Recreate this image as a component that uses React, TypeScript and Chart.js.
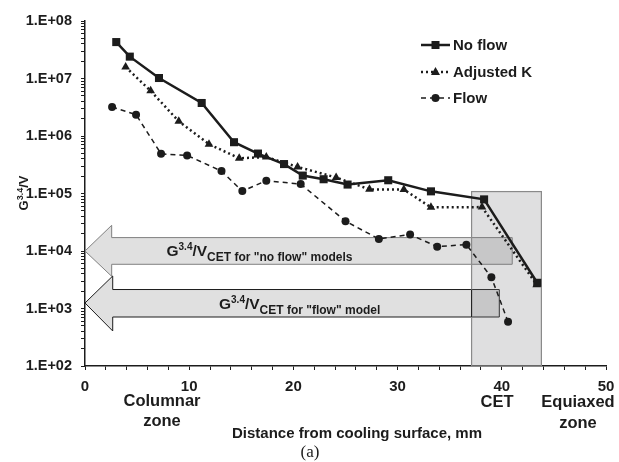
import { useEffect, useRef } from "react";
import { Chart, registerables } from "chart.js";
Chart.register(...registerables);

// ---- data ----
const xNoFlow = [3.0, 4.3, 7.1, 11.2, 14.3, 16.6, 19.1, 20.9, 22.9, 25.2, 29.1, 33.2, 38.3, 43.4];
const yNoFlow = [4.3e7, 2.4e7, 1.02e7, 3.75e6, 7.8e5, 4.95e5, 3.25e5, 2.05e5, 1.77e5, 1.43e5, 1.7e5, 1.09e5, 7.9e4, 2.8e3];

const xAdjK = [3.9, 6.3, 9.0, 11.9, 14.8, 17.4, 20.4, 24.1, 27.3, 30.6, 33.2, 38.1, 43.35];
const yAdjK = [1.58e7, 6.1e6, 1.8e6, 7.2e5, 4.1e5, 4.3e5, 2.9e5, 1.9e5, 1.18e5, 1.17e5, 5.75e4, 5.8e4, 2.6e3];

const xFlow = [2.6, 4.9, 7.3, 9.8, 13.1, 15.1, 17.4, 20.7, 25.0, 28.2, 31.2, 33.8, 36.6, 39.0, 40.6];
const yFlow = [3.2e6, 2.35e6, 4.9e5, 4.6e5, 2.45e5, 1.1e5, 1.67e5, 1.46e5, 3.3e4, 1.62e4, 1.93e4, 1.19e4, 1.29e4, 3.5e3, 5.9e2];

const seriesNames = ["No flow", "Adjusted K", "Flow"];
const yTickExponents = [2, 3, 4, 5, 6, 7, 8];
const xTickLabels = [0, 10, 20, 30, 40, 50];

// CET region (mm, value)
const cetRegion = { x0: 37.1, x1: 43.8, yTop: 1.08e5 };

const FONT = "'Liberation Sans', Arial, Helvetica, sans-serif";
const INK = "#1c1c1c";

type Part = { text: string; size: number; dy: number };

function drawRich(ctx: CanvasRenderingContext2D, x: number, y: number, parts: Part[], align: "left" | "center") {
  ctx.save();
  ctx.textBaseline = "alphabetic";
  ctx.textAlign = "left";
  let total = 0;
  for (const p of parts) {
    ctx.font = `bold ${p.size}px ${FONT}`;
    total += ctx.measureText(p.text).width;
  }
  let cx = align === "center" ? x - total / 2 : x;
  for (const p of parts) {
    ctx.font = `bold ${p.size}px ${FONT}`;
    ctx.fillText(p.text, cx, y + p.dy);
    cx += ctx.measureText(p.text).width;
  }
  ctx.restore();
}

const arrows = [
  { tipY: 1e4, headTop: 10 ** 4.447, headBot: 10 ** 3.56, shaftTop: 10 ** 4.233, shaftBot: 10 ** 3.769, headX: 2.56, endX: 41.0, stroke: "#808080" },
  { tipY: 10 ** 3.096, headTop: 10 ** 3.565, headBot: 10 ** 2.609, shaftTop: 10 ** 3.33, shaftBot: 10 ** 2.852, headX: 2.66, endX: 39.76, stroke: "#1c1c1c" },
];

const backgroundPlugin = {
  id: "bgShapes",
  beforeDatasetsDraw(chart: any) {
    const ctx: CanvasRenderingContext2D = chart.ctx;
    const xs = chart.scales.x;
    const ys = chart.scales.y;
    ctx.save();
    // arrows
    for (const a of arrows) {
      const tipX = xs.getPixelForValue(0);
      const hx = xs.getPixelForValue(a.headX);
      const ex = xs.getPixelForValue(a.endX);
      ctx.beginPath();
      ctx.moveTo(tipX, ys.getPixelForValue(a.tipY));
      ctx.lineTo(hx, ys.getPixelForValue(a.headTop));
      ctx.lineTo(hx, ys.getPixelForValue(a.shaftTop));
      ctx.lineTo(ex, ys.getPixelForValue(a.shaftTop));
      ctx.lineTo(ex, ys.getPixelForValue(a.shaftBot));
      ctx.lineTo(hx, ys.getPixelForValue(a.shaftBot));
      ctx.lineTo(hx, ys.getPixelForValue(a.headBot));
      ctx.closePath();
      ctx.fillStyle = "#e0e0e0";
      ctx.fill();
      ctx.lineWidth = 1;
      ctx.strokeStyle = a.stroke;
      ctx.stroke();
    }
    // CET rectangle
    const rx0 = xs.getPixelForValue(cetRegion.x0);
    const rx1 = xs.getPixelForValue(cetRegion.x1);
    const ry0 = ys.getPixelForValue(cetRegion.yTop);
    const ry1 = ys.getPixelForValue(100);
    ctx.fillStyle = "rgba(120,120,125,0.24)";
    ctx.fillRect(rx0, ry0, rx1 - rx0, ry1 - ry0);
    ctx.strokeStyle = "#8a8a8a";
    ctx.lineWidth = 1.2;
    ctx.strokeRect(rx0, ry0, rx1 - rx0, ry1 - ry0);
    // dark edge inside lower arrow
    const la = arrows[1];
    ctx.beginPath();
    ctx.moveTo(rx0, ys.getPixelForValue(la.shaftTop));
    ctx.lineTo(rx0, ys.getPixelForValue(la.shaftBot));
    ctx.strokeStyle = "#1c1c1c";
    ctx.lineWidth = 1;
    ctx.stroke();

    // arrow labels
    ctx.fillStyle = INK;
    drawRich(ctx, 166.5, 256, [
      { text: "G", size: 15.5, dy: 0 },
      { text: "3.4", size: 10, dy: -6 },
      { text: "/V", size: 15.5, dy: 0 },
      { text: 'CET for "no flow" models', size: 12, dy: 5 },
    ], "left");
    drawRich(ctx, 219, 308.5, [
      { text: "G", size: 15.5, dy: 0 },
      { text: "3.4", size: 10, dy: -6 },
      { text: "/V", size: 15.5, dy: 0 },
      { text: 'CET for "flow" model', size: 12, dy: 5 },
    ], "left");
    ctx.restore();
  },
  afterDraw(chart: any) {
    const ctx: CanvasRenderingContext2D = chart.ctx;
    ctx.save();
    ctx.fillStyle = INK;
    ctx.strokeStyle = INK;
    // legend
    const legendRows = [
      { y: 45, style: "rect", dash: [] as number[], width: 2.5 },
      { y: 72, style: "triangle", dash: [2, 3], width: 2.5 },
      { y: 98, style: "circle", dash: [5, 4], width: 1.5 },
    ];
    legendRows.forEach((row, i) => {
      ctx.beginPath();
      ctx.setLineDash(row.dash);
      ctx.lineWidth = row.width;
      ctx.moveTo(421, row.y);
      ctx.lineTo(450, row.y);
      ctx.stroke();
      ctx.setLineDash([]);
      ctx.beginPath();
      if (row.style === "rect") {
        ctx.rect(431.5, row.y - 4, 8, 8);
      } else if (row.style === "triangle") {
        ctx.moveTo(435.5, row.y - 5);
        ctx.lineTo(440, row.y + 3);
        ctx.lineTo(431, row.y + 3);
        ctx.closePath();
      } else {
        ctx.arc(435.5, row.y, 4, 0, Math.PI * 2);
      }
      ctx.fill();
      ctx.font = `bold 15px ${FONT}`;
      ctx.textBaseline = "middle";
      ctx.textAlign = "left";
      ctx.fillText(seriesNames[i], 453, row.y + 0.5);
    });

    // y axis title (rotated)
    ctx.save();
    ctx.translate(28, 193);
    ctx.rotate(-Math.PI / 2);
    drawRich(ctx, 0, 0, [
      { text: "G", size: 13, dy: 0 },
      { text: "3.4", size: 9, dy: -5 },
      { text: "/V", size: 13, dy: 0 },
    ], "center");
    ctx.restore();

    // bottom annotations
    ctx.textAlign = "center";
    ctx.textBaseline = "middle";
    ctx.font = `bold 16.5px ${FONT}`;
    ctx.fillText("Columnar", 162, 401);
    ctx.fillText("zone", 162, 421);
    ctx.fillText("CET", 497, 402);
    ctx.fillText("Equiaxed", 578, 402);
    ctx.fillText("zone", 578, 423);
    ctx.font = `bold 15px ${FONT}`;
    ctx.fillText("Distance from cooling surface, mm", 357, 434);
    ctx.font = `17px 'Liberation Serif', 'DejaVu Serif', serif`;
    ctx.fillText("(a)", 310, 453);
    ctx.restore();
  },
};

function pairs(xs: number[], ys: number[]) {
  return xs.map((x, i) => ({ x, y: ys[i] }));
}

export default function App() {
  const ref = useRef<HTMLCanvasElement | null>(null);
  useEffect(() => {
    if (!ref.current) return;
    const chart = new Chart(ref.current, {
      type: "line",
      data: {
        datasets: [
          {
            label: seriesNames[0],
            data: pairs(xNoFlow, yNoFlow),
            borderColor: INK,
            backgroundColor: INK,
            borderWidth: 2.5,
            pointStyle: "rect",
            pointRadius: 5.7,
            pointBorderWidth: 0,
            tension: 0,
          },
          {
            label: seriesNames[1],
            data: pairs(xAdjK, yAdjK),
            borderColor: INK,
            backgroundColor: INK,
            borderWidth: 2.5,
            borderDash: [2, 3],
            pointStyle: "triangle",
            pointRadius: 5,
            pointBorderWidth: 0,
            tension: 0,
          },
          {
            label: seriesNames[2],
            data: pairs(xFlow, yFlow),
            borderColor: INK,
            backgroundColor: INK,
            borderWidth: 1.5,
            borderDash: [5, 4],
            pointStyle: "circle",
            pointRadius: 4,
            pointBorderWidth: 0,
            tension: 0,
          },
        ],
      },
      options: {
        animation: false,
        responsive: false,
        maintainAspectRatio: false,
        layout: { padding: { top: 21, right: 13, left: 0, bottom: 0 } },
        plugins: { legend: { display: false }, tooltip: { enabled: false } },
        scales: {
          x: {
            type: "linear",
            min: 0,
            max: 50,
            afterFit: (s: any) => { s.height = 96; s.paddingLeft = 0; s.paddingRight = 0; },
            ticks: {
              stepSize: 2,
              autoSkip: false,
              maxRotation: 0,
              padding: 8,
              color: INK,
              font: { family: FONT, size: 15, weight: "bold" },
              callback: (v: any) => (xTickLabels.includes(Number(v)) ? String(v) : ""),
            },
            grid: { drawOnChartArea: false, tickLength: 4, color: INK, lineWidth: 1 },
            border: { color: INK, width: 1.5 },
          },
          y: {
            type: "logarithmic",
            min: 100,
            max: 1e8,
            afterFit: (s: any) => { s.width = 85; s.paddingTop = 0; s.paddingBottom = 0; },
            afterBuildTicks: (s: any) => {
              const t: any[] = [];
              for (let e = 2; e < 8; e++) {
                for (let m = 1; m < 10; m++) t.push({ value: m * 10 ** e });
              }
              t.push({ value: 1e8 });
              s.ticks = t;
            },
            ticks: {
              autoSkip: false,
              padding: 9,
              color: INK,
              font: { family: FONT, size: 14.5, weight: "bold" },
              callback: (v: any) => {
                const e = Math.round(Math.log10(Number(v)));
                if (Math.abs(Number(v) - 10 ** e) < 1e-6 * Number(v) && yTickExponents.includes(e)) {
                  return "1.E+" + String(e).padStart(2, "0");
                }
                return "";
              },
            },
            grid: { drawOnChartArea: false, tickLength: 4, color: INK, lineWidth: 1 },
            border: { color: INK, width: 1.5 },
          },
        },
      },
      plugins: [backgroundPlugin],
    } as any);
    return () => chart.destroy();
  }, []);
  return (
    <div style={{ position: "fixed", left: 0, top: 0, width: 619, height: 462, background: "#fff" }}>
      <canvas ref={ref} width={619} height={462} style={{ width: 619, height: 462, display: "block" }} />
    </div>
  );
}
